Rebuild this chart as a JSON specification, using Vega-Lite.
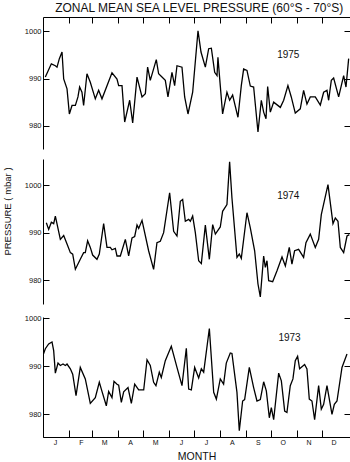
{
  "$schema": "https://vega.github.io/schema/vega-lite/v6.json",
  "padding": {"left": 1, "top": 1, "right": 0, "bottom": 0},
  "background": "white",
  "title": {"text": "ZONAL MEAN SEA LEVEL PRESSURE (60°S - 70°S)", "font": "Liberation Sans", "fontSize": 12, "fontWeight": "normal", "color": "#111", "offset": 2, "anchor": "middle", "dx": 23},
  "config": {
    "view": {"stroke": null},
    "axis": {"grid": false, "domainColor": "black", "tickColor": "black", "domainWidth": 1, "tickWidth": 1, "labelFont": "Liberation Sans", "labelColor": "#111", "titleFont": "Liberation Sans", "titleColor": "#111", "titleFontWeight": "normal"},
    "text": {"font": "Liberation Sans"}
  },
  "datasets": {
    "y1975": [
      {"day": 2.8, "p": 990.3}, {"day": 10.0, "p": 993.1}, {"day": 14.8, "p": 992.7}, {"day": 16.8, "p": 992.4}, {"day": 19.6, "p": 994.2}, {"day": 22.8, "p": 995.6}, {"day": 24.8, "p": 989.9}, {"day": 28.8, "p": 987.8}, {"day": 31.6, "p": 982.5}, {"day": 34.8, "p": 984.3}, {"day": 38.8, "p": 984.3}, {"day": 41.9, "p": 986.1}, {"day": 43.9, "p": 988.2}, {"day": 46.7, "p": 987.1}, {"day": 48.7, "p": 984.3}, {"day": 52.7, "p": 991.0}, {"day": 56.7, "p": 989.2}, {"day": 62.7, "p": 985.7}, {"day": 66.7, "p": 987.5}, {"day": 70.7, "p": 985.7}, {"day": 82.7, "p": 991.2}, {"day": 88.7, "p": 989.9}, {"day": 90.7, "p": 988.5}, {"day": 94.7, "p": 988.5}, {"day": 97.9, "p": 980.8}, {"day": 103.9, "p": 985.4}, {"day": 107.5, "p": 980.6}, {"day": 112.7, "p": 990.3}, {"day": 118.7, "p": 986.1}, {"day": 122.7, "p": 986.8}, {"day": 125.4, "p": 992.4}, {"day": 128.6, "p": 989.6}, {"day": 135.8, "p": 994.0}, {"day": 138.6, "p": 991.0}, {"day": 142.6, "p": 990.3}, {"day": 146.6, "p": 989.6}, {"day": 149.8, "p": 986.1}, {"day": 154.6, "p": 991.3}, {"day": 157.8, "p": 988.5}, {"day": 160.6, "p": 992.7}, {"day": 166.6, "p": 992.4}, {"day": 169.8, "p": 986.1}, {"day": 173.8, "p": 982.5}, {"day": 179.4, "p": 987.1}, {"day": 185.8, "p": 1000.1}, {"day": 189.4, "p": 995.6}, {"day": 194.6, "p": 992.4}, {"day": 198.6, "p": 996.3}, {"day": 201.8, "p": 996.4}, {"day": 205.8, "p": 991.3}, {"day": 208.6, "p": 990.6}, {"day": 209.7, "p": 994.5}, {"day": 212.5, "p": 988.5}, {"day": 215.3, "p": 982.5}, {"day": 220.5, "p": 987.1}, {"day": 223.7, "p": 985.4}, {"day": 227.3, "p": 986.5}, {"day": 233.7, "p": 981.8}, {"day": 237.7, "p": 988.5}, {"day": 240.5, "p": 992.0}, {"day": 244.5, "p": 991.7}, {"day": 248.5, "p": 988.4}, {"day": 252.5, "p": 988.2}, {"day": 257.7, "p": 978.7}, {"day": 261.7, "p": 985.4}, {"day": 264.5, "p": 982.9}, {"day": 267.3, "p": 981.5}, {"day": 269.3, "p": 988.3}, {"day": 272.5, "p": 982.9}, {"day": 276.5, "p": 985.0}, {"day": 284.5, "p": 983.9}, {"day": 288.5, "p": 985.4}, {"day": 293.6, "p": 988.5}, {"day": 297.6, "p": 986.1}, {"day": 302.4, "p": 982.7}, {"day": 308.4, "p": 983.6}, {"day": 312.4, "p": 987.5}, {"day": 316.4, "p": 984.6}, {"day": 320.4, "p": 986.1}, {"day": 326.4, "p": 986.1}, {"day": 332.4, "p": 984.4}, {"day": 336.4, "p": 987.1}, {"day": 340.4, "p": 987.5}, {"day": 342.4, "p": 985.4}, {"day": 345.6, "p": 989.6}, {"day": 348.4, "p": 990.1}, {"day": 354.4, "p": 986.1}, {"day": 360.4, "p": 990.6}, {"day": 363.2, "p": 988.2}, {"day": 366.4, "p": 994.2}
    ],
    "y1974": [
      {"day": 4.0, "p": 992.1}, {"day": 6.8, "p": 990.7}, {"day": 10.0, "p": 992.2}, {"day": 12.8, "p": 991.9}, {"day": 14.8, "p": 993.5}, {"day": 20.8, "p": 988.6}, {"day": 24.8, "p": 989.4}, {"day": 28.8, "p": 987.6}, {"day": 32.8, "p": 985.8}, {"day": 35.6, "p": 985.5}, {"day": 38.8, "p": 982.3}, {"day": 44.7, "p": 984.4}, {"day": 48.7, "p": 985.8}, {"day": 50.7, "p": 985.8}, {"day": 53.5, "p": 988.3}, {"day": 56.7, "p": 986.9}, {"day": 59.5, "p": 985.3}, {"day": 64.7, "p": 984.4}, {"day": 67.5, "p": 985.5}, {"day": 72.7, "p": 991.9}, {"day": 76.7, "p": 986.9}, {"day": 80.7, "p": 986.9}, {"day": 82.7, "p": 986.4}, {"day": 86.7, "p": 986.7}, {"day": 88.7, "p": 985.1}, {"day": 92.7, "p": 985.1}, {"day": 98.7, "p": 988.6}, {"day": 102.7, "p": 985.1}, {"day": 106.7, "p": 988.9}, {"day": 109.9, "p": 989.2}, {"day": 112.7, "p": 991.6}, {"day": 114.7, "p": 990.9}, {"day": 118.7, "p": 992.6}, {"day": 126.6, "p": 986.2}, {"day": 132.6, "p": 982.3}, {"day": 136.6, "p": 987.9}, {"day": 140.6, "p": 988.2}, {"day": 144.6, "p": 990.0}, {"day": 151.8, "p": 998.4}, {"day": 156.6, "p": 990.3}, {"day": 160.6, "p": 989.3}, {"day": 164.6, "p": 996.6}, {"day": 167.4, "p": 997.0}, {"day": 170.6, "p": 992.4}, {"day": 174.6, "p": 992.8}, {"day": 176.6, "p": 992.4}, {"day": 179.4, "p": 993.5}, {"day": 182.6, "p": 990.0}, {"day": 186.6, "p": 984.1}, {"day": 189.8, "p": 983.5}, {"day": 194.6, "p": 991.6}, {"day": 199.4, "p": 984.4}, {"day": 203.4, "p": 991.7}, {"day": 206.6, "p": 989.7}, {"day": 212.5, "p": 991.2}, {"day": 215.3, "p": 994.5}, {"day": 220.5, "p": 995.9}, {"day": 223.7, "p": 1004.9}, {"day": 226.5, "p": 997.3}, {"day": 232.5, "p": 984.8}, {"day": 235.3, "p": 985.5}, {"day": 237.7, "p": 984.6}, {"day": 244.5, "p": 994.2}, {"day": 248.5, "p": 991.0}, {"day": 253.7, "p": 986.2}, {"day": 257.7, "p": 979.2}, {"day": 260.5, "p": 976.5}, {"day": 264.5, "p": 985.1}, {"day": 266.5, "p": 982.7}, {"day": 268.5, "p": 984.1}, {"day": 270.5, "p": 979.9}, {"day": 275.3, "p": 979.7}, {"day": 280.5, "p": 982.0}, {"day": 286.5, "p": 984.9}, {"day": 290.5, "p": 983.0}, {"day": 295.2, "p": 986.9}, {"day": 298.4, "p": 983.4}, {"day": 301.6, "p": 986.2}, {"day": 306.4, "p": 986.5}, {"day": 312.4, "p": 984.8}, {"day": 315.2, "p": 987.9}, {"day": 320.4, "p": 989.7}, {"day": 326.4, "p": 986.9}, {"day": 330.4, "p": 988.6}, {"day": 333.6, "p": 993.8}, {"day": 341.6, "p": 1000.1}, {"day": 347.6, "p": 991.9}, {"day": 350.4, "p": 993.1}, {"day": 353.6, "p": 992.4}, {"day": 356.4, "p": 986.9}, {"day": 360.4, "p": 985.8}, {"day": 364.4, "p": 989.3}, {"day": 367.2, "p": 989.6}
    ],
    "y1973": [
      {"day": 0.0, "p": 992.3}, {"day": 2.8, "p": 993.7}, {"day": 6.8, "p": 994.7}, {"day": 10.8, "p": 995.1}, {"day": 12.8, "p": 993.3}, {"day": 14.8, "p": 988.6}, {"day": 18.0, "p": 990.7}, {"day": 20.8, "p": 990.2}, {"day": 24.0, "p": 990.5}, {"day": 26.8, "p": 990.2}, {"day": 28.8, "p": 990.5}, {"day": 32.8, "p": 989.5}, {"day": 35.6, "p": 988.4}, {"day": 39.6, "p": 983.9}, {"day": 44.7, "p": 989.8}, {"day": 50.7, "p": 987.4}, {"day": 56.7, "p": 982.3}, {"day": 62.7, "p": 983.5}, {"day": 67.5, "p": 986.7}, {"day": 70.7, "p": 984.8}, {"day": 75.9, "p": 981.8}, {"day": 78.7, "p": 984.8}, {"day": 82.7, "p": 983.5}, {"day": 85.1, "p": 986.9}, {"day": 88.7, "p": 986.3}, {"day": 90.7, "p": 986.1}, {"day": 93.9, "p": 982.5}, {"day": 96.7, "p": 984.7}, {"day": 101.9, "p": 985.6}, {"day": 105.9, "p": 982.3}, {"day": 109.9, "p": 986.3}, {"day": 114.7, "p": 985.1}, {"day": 120.7, "p": 985.1}, {"day": 124.7, "p": 991.4}, {"day": 128.6, "p": 990.2}, {"day": 132.6, "p": 986.7}, {"day": 135.4, "p": 986.0}, {"day": 139.4, "p": 988.8}, {"day": 141.8, "p": 987.7}, {"day": 146.6, "p": 991.2}, {"day": 153.8, "p": 994.2}, {"day": 160.6, "p": 989.8}, {"day": 166.6, "p": 986.0}, {"day": 171.8, "p": 993.8}, {"day": 174.6, "p": 985.3}, {"day": 177.8, "p": 985.1}, {"day": 181.8, "p": 989.8}, {"day": 186.6, "p": 987.6}, {"day": 189.8, "p": 989.5}, {"day": 192.6, "p": 988.8}, {"day": 199.4, "p": 997.9}, {"day": 204.6, "p": 984.6}, {"day": 207.8, "p": 983.2}, {"day": 212.5, "p": 987.4}, {"day": 216.5, "p": 986.3}, {"day": 219.7, "p": 990.7}, {"day": 224.5, "p": 992.8}, {"day": 226.5, "p": 992.7}, {"day": 232.5, "p": 984.6}, {"day": 235.3, "p": 976.6}, {"day": 239.3, "p": 982.8}, {"day": 241.7, "p": 983.1}, {"day": 247.3, "p": 989.8}, {"day": 252.5, "p": 985.6}, {"day": 256.5, "p": 982.8}, {"day": 260.5, "p": 983.1}, {"day": 264.5, "p": 986.8}, {"day": 267.7, "p": 984.9}, {"day": 271.3, "p": 979.3}, {"day": 273.7, "p": 981.4}, {"day": 276.5, "p": 978.9}, {"day": 282.5, "p": 988.6}, {"day": 285.7, "p": 987.0}, {"day": 289.7, "p": 980.7}, {"day": 292.4, "p": 980.4}, {"day": 296.4, "p": 986.0}, {"day": 299.6, "p": 987.4}, {"day": 302.4, "p": 991.2}, {"day": 305.2, "p": 992.1}, {"day": 307.6, "p": 989.5}, {"day": 313.6, "p": 990.4}, {"day": 316.4, "p": 989.5}, {"day": 319.2, "p": 983.2}, {"day": 322.4, "p": 982.8}, {"day": 325.6, "p": 978.9}, {"day": 330.4, "p": 986.0}, {"day": 333.6, "p": 981.1}, {"day": 336.4, "p": 982.1}, {"day": 340.4, "p": 986.0}, {"day": 346.4, "p": 980.0}, {"day": 349.2, "p": 982.1}, {"day": 352.4, "p": 982.8}, {"day": 358.4, "p": 989.8}, {"day": 364.4, "p": 992.6}
    ],
    "labels1975": [{"day": 294, "p": 995.0, "label": "1975"}],
    "labels1974": [{"day": 294, "p": 997.8, "label": "1974"}],
    "labels1973": [{"day": 295.5, "p": 995.9, "label": "1973"}]
  },
  "spacing": 10,
  "vconcat": [
    {
      "width": 307, "height": 132,
      "layer": [
        {
          "data": {"name": "y1975"},
          "mark": {"type": "line", "color": "black", "strokeWidth": 1.3, "clip": true},
          "encoding": {
            "x": {"field": "day", "type": "quantitative", "scale": {"domain": [0, 368], "nice": false}, "axis": {"orient": "top", "values": [31, 59, 90, 120, 151, 181, 212, 243, 273, 304, 334], "labels": false, "title": null, "tickSize": -6, "domain": true}},
            "y": {"field": "p", "type": "quantitative", "scale": {"domain": [975.1, 1003], "nice": false, "zero": false}, "axis": {"values": [980, 990, 1000], "format": "d", "tickSize": -6, "labelPadding": 8, "labelFontSize": 7.5, "title": null}}
          }
        },
        {
          "data": {"name": "y1975"},
          "mark": {"type": "line", "opacity": 0},
          "encoding": {
            "x": {"field": "day", "type": "quantitative", "scale": {"domain": [0, 368], "nice": false}, "axis": null},
            "y": {"field": "p", "type": "quantitative", "scale": {"domain": [975.1, 1003], "nice": false, "zero": false}, "axis": {"orient": "right", "values": [980, 990, 1000], "tickSize": -6, "labels": false, "title": null}}
          }
        },
        {
          "data": {"name": "labels1975"},
          "mark": {"type": "text", "fontSize": 10, "color": "#111"},
          "encoding": {
            "x": {"field": "day", "type": "quantitative", "axis": null},
            "y": {"field": "p", "type": "quantitative", "axis": null},
            "text": {"field": "label"}
          }
        }
      ],
      "resolve": {"axis": {"y": "independent", "x": "independent"}}
    },
    {
      "width": 307, "height": 145,
      "layer": [
        {
          "data": {"name": "y1974"},
          "mark": {"type": "line", "color": "black", "strokeWidth": 1.3, "clip": true},
          "encoding": {
            "x": {"field": "day", "type": "quantitative", "scale": {"domain": [0, 368], "nice": false}, "axis": null},
            "y": {"field": "p", "type": "quantitative", "scale": {"domain": [975, 1005.5], "nice": false, "zero": false}, "axis": {"values": [980, 990, 1000], "format": "d", "tickSize": -6, "labelPadding": 8, "labelFontSize": 7.5, "title": "PRESSURE ( mbar )", "titleFontSize": 9.5, "titleX": -31, "titleY": 52}}
          }
        },
        {
          "data": {"name": "y1974"},
          "mark": {"type": "line", "opacity": 0},
          "encoding": {
            "x": {"field": "day", "type": "quantitative", "scale": {"domain": [0, 368], "nice": false}, "axis": null},
            "y": {"field": "p", "type": "quantitative", "scale": {"domain": [975, 1005.5], "nice": false, "zero": false}, "axis": {"orient": "right", "values": [980, 990, 1000], "tickSize": -6, "labels": false, "title": null}}
          }
        },
        {
          "data": {"name": "labels1974"},
          "mark": {"type": "text", "fontSize": 10, "color": "#111"},
          "encoding": {
            "x": {"field": "day", "type": "quantitative", "axis": null},
            "y": {"field": "p", "type": "quantitative", "axis": null},
            "text": {"field": "label"}
          }
        }
      ],
      "resolve": {"axis": {"y": "independent", "x": "independent"}}
    },
    {
      "width": 307, "height": 120,
      "layer": [
        {
          "data": {"name": "y1973"},
          "mark": {"type": "line", "color": "black", "strokeWidth": 1.3, "clip": true},
          "encoding": {
            "x": {"field": "day", "type": "quantitative", "scale": {"domain": [0, 368], "nice": false}, "axis": {"orient": "bottom", "values": [0, 31, 59, 90, 120, 151, 181, 212, 243, 273, 304, 334], "labelExpr": "['J','F','M','A','M','J','J','A','S','O','N','D'][indexof([0,31,59,90,120,151,181,212,243,273,304,334], datum.value)]", "labelOffset": 12, "labelFlush": false, "labelOverlap": false, "labelBound": false, "labelPadding": 8, "labelFontSize": 7, "tickSize": -7, "title": "MONTH", "titleFontSize": 10.5, "titlePadding": 6}},
            "y": {"field": "p", "type": "quantitative", "scale": {"domain": [975.3, 1000.3], "nice": false, "zero": false}, "axis": {"values": [980, 990, 1000], "format": "d", "tickSize": -6, "labelPadding": 8, "labelFontSize": 7.5, "title": null}}
          }
        },
        {
          "data": {"name": "y1973"},
          "mark": {"type": "line", "opacity": 0},
          "encoding": {
            "x": {"field": "day", "type": "quantitative", "scale": {"domain": [0, 368], "nice": false}, "axis": null},
            "y": {"field": "p", "type": "quantitative", "scale": {"domain": [975.3, 1000.3], "nice": false, "zero": false}, "axis": {"orient": "right", "values": [980, 990, 1000], "tickSize": -6, "labels": false, "title": null}}
          }
        },
        {
          "data": {"name": "labels1973"},
          "mark": {"type": "text", "fontSize": 10, "color": "#111"},
          "encoding": {
            "x": {"field": "day", "type": "quantitative", "axis": null},
            "y": {"field": "p", "type": "quantitative", "axis": null},
            "text": {"field": "label"}
          }
        }
      ],
      "resolve": {"axis": {"y": "independent", "x": "independent"}}
    }
  ]
}
